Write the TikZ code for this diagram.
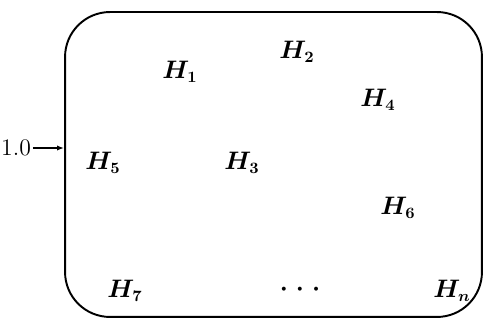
\documentclass[tikz,border=0pt]{standalone}
\usepackage{bm}
\usetikzlibrary{arrows.meta}
\begin{document}
\begin{tikzpicture}[x=0.02cm, y=-0.02cm, font=\fontsize{13.5}{16}\selectfont,
			h/.style={inner sep=1pt},
			frame/.style={draw, line width=1.1pt, rounded corners=0.9cm, inner sep=0pt,
				minimum width=8.34cm, minimum height=6.1cm}]
			\useasboundingbox (0,0) rectangle (485,320);
			\node[frame] (box) at (273.5,164.5) {};
			% Hypothesen im Kasten
			\foreach \n/\x/\y/\t in {H1/180/72/1, H2/297/52/2, H4/378/100/4, H5/103/163/5,
				H3/242/163/3, H6/398/208/6, H7/125/291/7, Hn/452/291/n}{
				\node[h] (\n) at (\x,\y) {$\bm{H_{\t}}$};
			}
			\node[h] (dots) at (300,290) {$\bm{\cdot}$\hspace{4.6pt}$\bm{\cdot}$\hspace{4.6pt}$\bm{\cdot}$};
			% Eingangswert
			\node[h, anchor=east] (val) at (33,148) {1.0};
			\draw[line width=0.8pt, -{Latex[length=4pt,width=3pt]}] (val.east) -- (val.east -| box.west);
		\end{tikzpicture}
\end{document}
